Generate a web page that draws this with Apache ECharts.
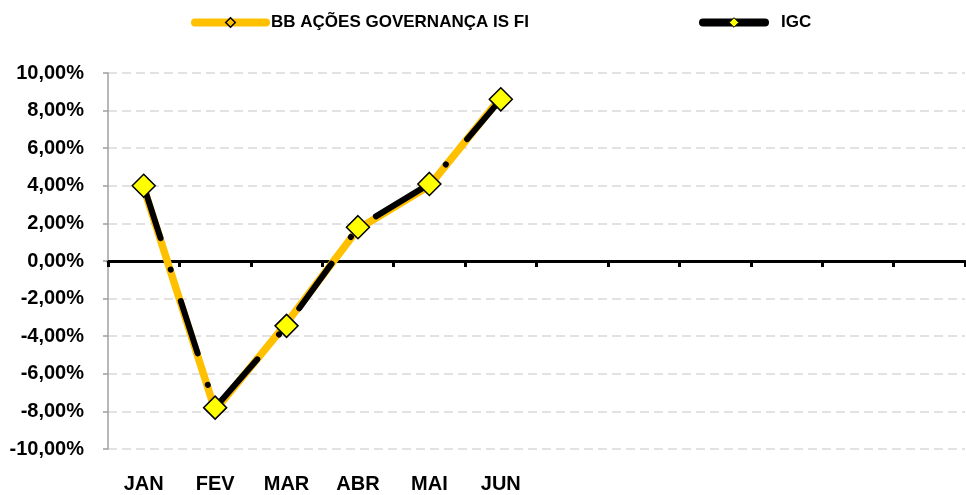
<!DOCTYPE html>
<html>
<head>
<meta charset="utf-8">
<script src="https://cdn.jsdelivr.net/npm/echarts@6/dist/echarts.min.js"></script>
<style>
  html, body { margin: 0; padding: 0; background: #fff; }
  #chart { width: 966px; height: 495px; }
</style>
</head>
<body>
<div id="chart"></div>
<script>
// 12 monthly slots, only the first six are filled
var months = ['JAN', 'FEV', 'MAR', 'ABR', 'MAI', 'JUN', '', '', '', '', '', ''];
var bbAcoes = [3.9, -7.95, -3.3, 1.7, 4.0, 8.7];
var igc = [4.0, -7.8, -3.45, 1.8, 4.1, 8.6];
var yTicks = [-10, -8, -6, -4, -2, 0, 2, 4, 6, 8, 10];

var FONT = '"Liberation Sans", Arial, sans-serif';

function pct(v) {
    return v.toFixed(2).replace('.', ',') + '%';
}

var chart = echarts.init(document.getElementById('chart'), null, { renderer: 'canvas' });

var option = {
    animation: false,
    backgroundColor: '#ffffff',
    legend: [{
        left: 191,
        top: 14,
        padding: 0,
        itemWidth: 71,
        itemHeight: 12,
        textStyle: { fontFamily: FONT, fontWeight: 'bold', fontSize: 17, color: '#000' },
        data: [{
            name: 'BB AÇÕES GOVERNANÇA IS FI',
            lineStyle: { width: 8, type: 'solid', color: '#ffc000', cap: 'round' },
            itemStyle: { color: '#ffc000', borderColor: '#000', borderWidth: 1.5 }
        }]
    }, {
        left: 699,
        top: 14,
        padding: 0,
        itemWidth: 62,
        itemHeight: 12,
        textStyle: { fontFamily: FONT, fontWeight: 'bold', fontSize: 17, color: '#000', padding: [0, 0, 0, 11] },
        data: [{
            name: 'IGC',
            lineStyle: { width: 8, type: 'solid', color: '#000', cap: 'round' },
            itemStyle: { color: '#ffff00', borderColor: '#000', borderWidth: 1 }
        }]
    }],
    grid: { left: 108, right: 1, top: 73, bottom: 46, containLabel: false },
    xAxis: [{
        type: 'category',
        data: months,
        boundaryGap: true,
        axisLine: { onZero: true, lineStyle: { color: '#000', width: 3 } },
        axisTick: { show: true, length: 6, lineStyle: { color: '#000', width: 3 } },
        axisLabel: { show: false },
        splitLine: { show: false }
    }, {
        type: 'category',
        data: months,
        position: 'bottom',
        boundaryGap: true,
        axisLine: { show: false, onZero: false },
        axisTick: { show: false },
        axisLabel: {
            show: true,
            interval: 0,
            margin: 25,
            fontFamily: FONT,
            fontWeight: 'bold',
            fontSize: 20,
            color: '#000'
        },
        splitLine: { show: false }
    }],
    yAxis: {
        type: 'value',
        min: yTicks[0],
        max: yTicks[yTicks.length - 1],
        interval: 2,
        axisLine: { show: true, onZero: false, lineStyle: { color: '#a0a0a0', width: 1.5 } },
        axisTick: { show: true, length: 5, lineStyle: { color: '#a0a0a0', width: 1.5 } },
        axisLabel: {
            margin: 24,
            fontFamily: FONT,
            fontWeight: 'bold',
            fontSize: 20,
            color: '#000',
            formatter: pct
        },
        splitLine: { show: true, lineStyle: { color: '#d9d9d9', width: 1.5, type: [9, 5] } }
    },
    series: [{
        name: 'BB AÇÕES GOVERNANÇA IS FI',
        type: 'line',
        xAxisIndex: 0,
        data: bbAcoes,
        symbol: 'diamond',
        symbolSize: 22,
        showSymbol: false,
        lineStyle: { color: '#ffc000', width: 7.5, join: 'round' },
        itemStyle: { color: '#ffc000', borderColor: '#000', borderWidth: 1.5 },
        z: 2
    }, {
        name: 'IGC',
        type: 'line',
        xAxisIndex: 0,
        data: igc,
        symbol: 'diamond',
        symbolSize: 23,
        lineStyle: { color: '#000', width: 6, type: [55, 33, 0.1, 33], cap: 'round', join: 'round' },
        itemStyle: { color: '#ffff00', borderColor: '#000', borderWidth: 1.5 },
        z: 3
    }]
};

chart.setOption(option);
</script>
</body>
</html>
